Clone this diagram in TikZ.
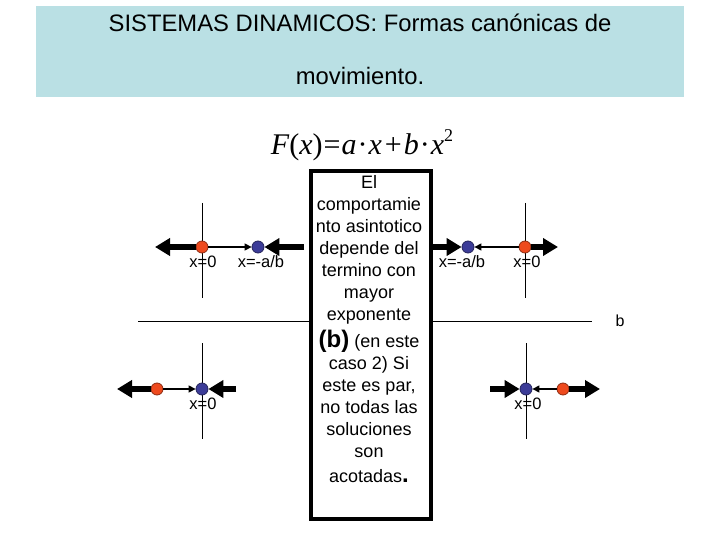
\documentclass[tikz,border=0pt]{standalone}
\usepackage{fontspec}
\setmainfont{Liberation Sans}
\newfontfamily\timesf{Liberation Serif}
\usetikzlibrary{arrows.meta}
\definecolor{titlebg}{HTML}{BAE0E4}
\definecolor{dotred}{HTML}{EE4A1E}
\definecolor{dotblue}{HTML}{3C3C98}
\tikzset{
  reddot/.style={circle,fill=dotred,draw=dotred!60!black,line width=0.8pt,minimum size=12pt,inner sep=0pt},
  bluedot/.style={circle,fill=dotblue,draw=dotblue!60!black,line width=0.8pt,minimum size=12pt,inner sep=0pt},
  bigarrow/.style={line width=5.5pt,-{Triangle[length=15pt,width=17pt]}},
  smallarrow/.style={line width=1.4pt,-{Triangle[length=7pt,width=7pt]}},
  axis/.style={line width=0.8pt},
  lbl/.style={font=\fontsize{16.5}{18}\selectfont,inner sep=0pt},
}
\begin{document}
\begin{tikzpicture}[x=1pt,y=-1pt]
\useasboundingbox (0,0) rectangle (720,540);
\fill[white] (0,0) rectangle (720,540);
% title
\node[fill=titlebg,minimum width=648pt,minimum height=91pt,inner sep=0pt,anchor=north west] (titlebox) at (36,6) {};
\node[anchor=base,inner sep=0pt,font=\fontsize{23.8}{24}\selectfont] (t1) at (360,32) {SISTEMAS DINAMICOS: Formas canónicas de};
\node[anchor=base,inner sep=0pt,font=\fontsize{23.8}{24}\selectfont] (t2) at (360,85) {movimiento.};
% formula
\node[inner sep=0pt,anchor=base] (formula) at (362,155) {\timesf\fontsize{30}{32}\selectfont
\textit{F}(\textit{x})\kern1pt=\kern1pt\textit{a}\kern1pt·\kern1pt\textit{x}\kern3pt+\kern2pt\textit{b}\kern1pt·\kern1pt\textit{x}\raisebox{13pt}{\fontsize{18}{20}\selectfont 2}};
% horizontal axis
\coordinate (hl) at (138,321);
\coordinate (hr) at (592,321);
\draw[axis] (hl) -- (hr);
\node[inner sep=0pt,font=\fontsize{16}{18}\selectfont] (blabel) at (620,321) {b};
% vertical axes
\coordinate (v1t) at (202,203); \coordinate (v1b) at (202,298);
\coordinate (v2t) at (525,203); \coordinate (v2b) at (525,298);
\coordinate (v3t) at (202,343); \coordinate (v3b) at (202,439);
\coordinate (v4t) at (526,343); \coordinate (v4b) at (526,439);
\draw[axis] (v1t) -- (v1b);
\draw[axis] (v2t) -- (v2b);
\draw[axis] (v3t) -- (v3b);
\draw[axis] (v4t) -- (v4b);
% top-left
\node[reddot] (r1) at (202,247) {};
\node[bluedot] (b1) at (258,247) {};
\coordinate (a1) at (155,247);
\coordinate (a2) at (304,247);
\draw[bigarrow] (r1.west) -- (a1);
\draw[bigarrow] (a2) -- (b1.east);
\draw[smallarrow] (r1.east) -- (b1.west);
\node[lbl] (l1) at (203,262) {x=0};
\node[lbl] (l2) at (261,262) {x=-a/b};
% top-right
\node[bluedot] (b2) at (468,247) {};
\node[reddot] (r2) at (525,247) {};
\coordinate (a3) at (433,247);
\coordinate (a4) at (558,247);
\draw[bigarrow] (a3) -- (b2.west);
\draw[bigarrow] (r2.east) -- (a4);
\draw[smallarrow] (r2.west) -- (b2.east);
\node[lbl] (l3) at (462,262) {x=-a/b};
\node[lbl] (l4) at (527,262) {x=0};
% bottom-left
\node[reddot] (r3) at (157,389) {};
\node[bluedot] (b3) at (202,389) {};
\coordinate (a5) at (117,389);
\coordinate (a6) at (236,389);
\draw[bigarrow] (r3.west) -- (a5);
\draw[bigarrow] (a6) -- (b3.east);
\draw[smallarrow] (r3.east) -- (b3.west);
\node[lbl] (l5) at (203,404) {x=0};
% bottom-right
\node[bluedot] (b4) at (526,389) {};
\node[reddot] (r4) at (563,389) {};
\coordinate (a7) at (490,389);
\coordinate (a8) at (600,389);
\draw[bigarrow] (a7) -- (b4.west);
\draw[bigarrow] (r4.east) -- (a8);
\draw[smallarrow] (r4.west) -- (b4.east);
\node[lbl] (l6) at (528,404) {x=0};
% central box
\node[draw=black,fill=white,line width=4pt,minimum width=120pt,minimum height=348pt,inner sep=0pt,anchor=north west] (cbox) at (309,169) {};
\node[anchor=north,inner sep=0pt,align=center,font=\fontsize{18}{22}\selectfont] (ctext) at (369,175)
{El\\ comportamie\\ nto asintotico\\ depende del\\ termino con\\ mayor\\ exponente\\[5pt]
{\fontsize{24}{22}\selectfont\bfseries (b)} (en este\\ caso 2) Si\\ este es par,\\ no todas las\\ soluciones\\ son\\[3pt] acotadas{\fontsize{24}{22}\selectfont\bfseries .}};
\end{tikzpicture}
\end{document}
